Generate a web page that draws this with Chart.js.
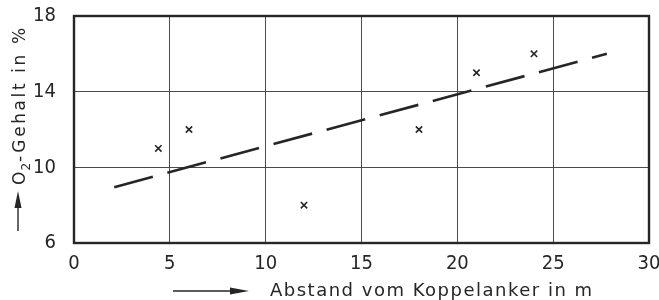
<!DOCTYPE html>
<html>
<head>
<meta charset="utf-8">
<script src="https://cdn.jsdelivr.net/npm/chart.js@4"></script>
<style>
  body { margin: 0; background: #fff; }
  #wrap { width: 659px; height: 300px; }
</style>
</head>
<body>
<div id="wrap"><canvas id="canvas" width="659" height="300"></canvas></div>
<script>
// measured points (distance in m, O2 content in %)
const abstand = [4.4, 6, 12, 18, 21, 24];
const o2Gehalt = [11, 12, 8, 12, 15, 16];
// dashed trend line, start and end
const trendX = [2.1, 27.8];
const trendY = [8.95, 16];
const xTicks = [0, 5, 10, 15, 20, 25, 30];
const yTicks = [6, 10, 14, 18];
const xTitle = 'Abstand vom Koppelanker in m';
const yTitle = ['O', '2', '-Gehalt in %'];

const ink = '#262626';
const font = '"DejaVu Sans", sans-serif';
const tickFont = '"Liberation Sans Narrow", "DejaVu Sans Condensed", "DejaVu Sans", sans-serif';

const frame = {
  id: 'frame',
  afterDraw(chart) {
    const { ctx, chartArea: a } = chart;
    ctx.save();
    ctx.strokeStyle = ink;
    ctx.lineWidth = 2.4;
    ctx.strokeRect(a.left, a.top, a.right - a.left, a.bottom - a.top);

    // x title with arrow
    ctx.fillStyle = ink;
    ctx.font = '18px ' + font;
    ctx.textBaseline = 'alphabetic';
    const w = ctx.measureText(xTitle).width;
    ctx.letterSpacing = ((322 - w) / (xTitle.length - 1)).toFixed(2) + 'px';
    ctx.fillText(xTitle, 270, 296);
    ctx.letterSpacing = '0px';
    ctx.lineWidth = 1.4;
    ctx.beginPath();
    ctx.moveTo(173, 291); ctx.lineTo(234, 291); ctx.stroke();
    ctx.beginPath();
    ctx.moveTo(249, 291); ctx.lineTo(230, 287.5); ctx.lineTo(230, 294.5); ctx.closePath(); ctx.fill();

    // y title with arrow
    ctx.translate(25, 185);
    ctx.rotate(-Math.PI / 2);
    ctx.font = '17px ' + font;
    ctx.fillText(yTitle[0], 0, 0);
    let x = ctx.measureText(yTitle[0]).width + 1;
    ctx.font = '12px ' + font;
    ctx.fillText(yTitle[1], x, 5);
    x += ctx.measureText(yTitle[1]).width + 1;
    ctx.font = '17px ' + font;
    const rest = yTitle[2];
    const rw = ctx.measureText(rest).width;
    ctx.letterSpacing = ((157 - x - rw) / (rest.length - 1)).toFixed(2) + 'px';
    ctx.fillText(rest, x, 0);
    ctx.letterSpacing = '0px';
    ctx.restore();

    ctx.save();
    ctx.strokeStyle = ink; ctx.fillStyle = ink; ctx.lineWidth = 1.4;
    ctx.beginPath();
    ctx.moveTo(18, 231); ctx.lineTo(18, 205); ctx.stroke();
    ctx.beginPath();
    ctx.moveTo(18, 191); ctx.lineTo(14.5, 208); ctx.lineTo(21.5, 208); ctx.closePath(); ctx.fill();
    ctx.restore();
  }
};

new Chart(document.getElementById('canvas'), {
  type: 'scatter',
  data: {
    datasets: [{
      label: 'Messwerte',
      data: abstand.map((v, i) => ({ x: v, y: o2Gehalt[i] })),
      pointStyle: 'crossRot',
      pointRadius: 4.5,
      pointBorderWidth: 1.6,
      borderColor: ink,
      backgroundColor: ink,
      showLine: false
    }, {
      label: 'Trend',
      data: trendX.map((v, i) => ({ x: v, y: trendY[i] })),
      showLine: true,
      borderColor: ink,
      borderWidth: 2.6,
      borderDash: [40, 15],
      pointRadius: 0
    }]
  },
  plugins: [frame],
  options: {
    responsive: false,
    animation: false,
    layout: { padding: { top: 16, right: 10, left: 0, bottom: 0 } },
    plugins: { legend: { display: false }, tooltip: { enabled: false } },
    scales: {
      x: {
        type: 'linear', min: 0, max: 30,
        afterBuildTicks: s => { s.ticks = xTicks.map(v => ({ value: v })); },
        afterFit: s => { s.height = 57; s.paddingLeft = 0; s.paddingRight = 0; },
        grid: { color: '#4a4a4a', lineWidth: 1, drawTicks: false },
        border: { display: false },
        ticks: { color: ink, font: { family: tickFont, size: 20 }, padding: 9, maxRotation: 0 }
      },
      y: {
        type: 'linear', min: 6, max: 18,
        afterBuildTicks: s => { s.ticks = yTicks.map(v => ({ value: v })); },
        afterFit: s => { s.width = 74; s.paddingTop = 0; s.paddingBottom = 0; },
        grid: { color: '#4a4a4a', lineWidth: 1, drawTicks: false },
        border: { display: false },
        ticks: { color: ink, font: { family: tickFont, size: 20 }, padding: 18 }
      }
    }
  }
});
</script>
</body>
</html>
